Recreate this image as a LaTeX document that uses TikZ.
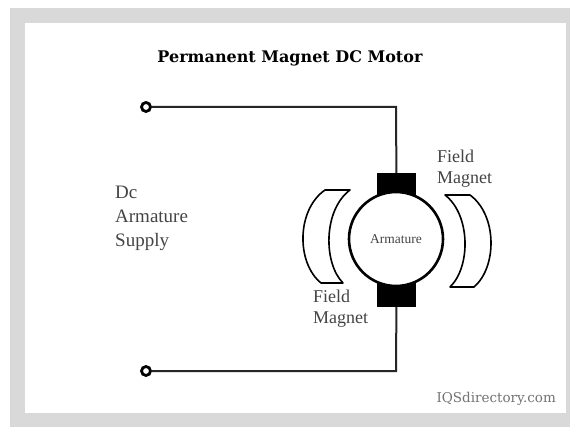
\documentclass[tikz,border=0pt]{standalone}
\usepackage{fontspec}
\setmainfont{Liberation Serif}
\newfontfamily\titlefont{DejaVu Serif}
\usetikzlibrary{positioning}
\definecolor{framegray}{HTML}{D9D9D9}
\definecolor{labelgray}{HTML}{444444}
\begin{document}
\begin{tikzpicture}[x=1pt, y=-1pt,
    wire/.style = {draw, line width=2pt, black!85},
    terminal/.style = {draw, circle, line width=2.8pt, fill=white, minimum size=9pt, inner sep=0pt},
    brush/.style = {draw=none, fill=black, minimum width=39pt, minimum height=27pt, inner sep=0pt},
    rotor/.style = {draw, circle, line width=2.6pt, fill=white, minimum size=94pt, inner sep=0pt},
    magnet/.style = {draw, line width=1.6pt, fill=white, line join=round},
    caption/.style = {align=left, text=labelgray, font=\fontsize{18}{21}\selectfont, inner sep=0pt}]
  \useasboundingbox (0,0) rectangle (570,427);
  \fill[framegray] (10,8) rectangle (570,427);
  \fill[white] (25,23) rectangle (566,413);
  \node[inner sep=0pt, font=\titlefont\bfseries\fontsize{16}{18}\selectfont] (title) at (290,58) {Permanent Magnet DC Motor};
  \node[terminal] (plus) at (146,107) {};
  \node[terminal] (minus) at (146,371) {};
  \coordinate (topcorner) at (396,107);
  \coordinate (botcorner) at (396,371);
  \node[brush] (brushtop) at (396.5,186.5) {};
  \node[brush] (brushbot) at (396.5,293.5) {};
  \node[rotor] (rotor) at (396,239) {};
  \node[caption, font=\fontsize{13.5}{16}\selectfont] (armature) at (rotor) {Armature};
  \draw[wire] (plus) -- (topcorner) -- (brushtop);
  \draw[wire] (minus) -- (botcorner) -- (brushbot);
  \draw[magnet] (325,190) -- (350,190) .. controls (323.2,210) and (323.2,263) .. (343,283) -- (321,283) .. controls (296.3,263) and (296.3,210) .. (325,190) -- cycle;
  \draw[magnet] (445,195) -- (470,195) .. controls (497.3,215) and (497.3,267) .. (474,287) -- (450,287) .. controls (470.8,267) and (470.8,215) .. (445,195) -- cycle;
  \node[caption, anchor=north west, font=\fontsize{19}{24}\selectfont] (supply) at (115,186) {Dc\\Armature\\Supply};
  \node[caption, anchor=north west] (fieldright) at (437,150) {Field\\Magnet};
  \node[caption, anchor=north west] (fieldleft) at (313,290) {Field\\Magnet};
  \node[inner sep=0pt, anchor=east, text=black!55, font=\titlefont\fontsize{13.5}{15}\selectfont] (brand) at (556,399) {IQSdirectory.com};
\end{tikzpicture}
\end{document}
